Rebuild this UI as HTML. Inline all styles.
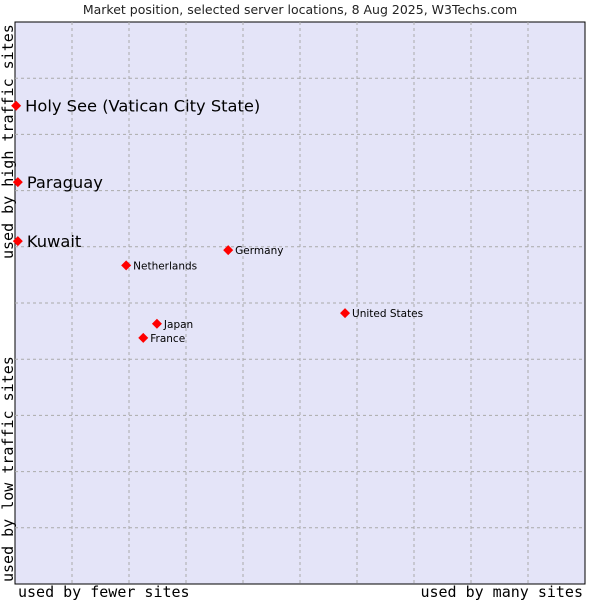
<!DOCTYPE html>
<html><head><meta charset="utf-8"><style>
body{margin:0;background:#fff;width:600px;height:600px;overflow:hidden}
svg{font-family:"DejaVu Sans","Liberation Sans",sans-serif}
.mono{font-family:"DejaVu Sans Mono","Liberation Mono",monospace}
</style></head><body>
<svg id="chart" width="600" height="600">
<text x="300" y="14" text-anchor="middle" font-size="12.5" fill="#222">Market position, selected server locations, 8 Aug 2025, W3Techs.com</text>
<rect x="15" y="22" width="570" height="562" fill="#e4e4f8" stroke="#000" stroke-width="1"/>
<g id="grid"></g>
<g id="marks"></g>
<text class="mono" x="18" y="597" font-size="15" fill="#000">used by fewer sites</text>
<text class="mono" x="583" y="597" font-size="15" fill="#000" text-anchor="end">used by many sites</text>
<text class="mono" transform="translate(13,259) rotate(-90)" font-size="15" fill="#000">used by high traffic sites</text>
<text class="mono" transform="translate(13,582) rotate(-90)" font-size="15" fill="#000">used by low traffic sites</text>
</svg>
<script>
const names=["Holy See (Vatican City State)","Paraguay","Kuwait","Netherlands","Germany","United States","Japan","France"];
const xVals=[0.2,0.5,0.5,19.5,37.4,57.9,24.9,22.5];
const yVals=[85.1,71.5,61,56.7,59.4,48.2,46.3,43.8];
const bigLabel=[true,true,true,false,false,false,false,false];
const L=15,T=22,W=570,H=562;
const sx=v=>L+v/100*W, sy=v=>T+H-v/100*H;
const ns="http://www.w3.org/2000/svg";
const g=document.getElementById('grid');
for(let i=1;i<10;i++){
 const a=document.createElementNS(ns,'line');
 
 
 a.setAttribute('x1',sx(i*10));a.setAttribute('x2',sx(i*10));a.setAttribute('y1',T);a.setAttribute('y2',T+H);
 a.setAttribute('stroke','#aaa');a.setAttribute('stroke-dasharray','3,3');g.appendChild(a);
 const b=document.createElementNS(ns,'line');
 
 
 b.setAttribute('y1',sy(i*10));b.setAttribute('y2',sy(i*10));b.setAttribute('x1',L);b.setAttribute('x2',L+W);
 b.setAttribute('stroke','#aaa');b.setAttribute('stroke-dasharray','3,3');g.appendChild(b);
}
const m=document.getElementById('marks');
names.forEach((n,i)=>{
 const x=sx(xVals[i]),y=sy(yVals[i]);
 const p=document.createElementNS(ns,'path');
 
 
 p.setAttribute('d',`M${x-5},${y}L${x},${y-5}L${x+5},${y}L${x},${y+5}Z`);
 p.setAttribute('fill','#f00');m.appendChild(p);
 const t=document.createElementNS(ns,'text');
 
 
 t.setAttribute('x',x+(bigLabel[i]?9:7));t.setAttribute('y',y+(bigLabel[i]?6:4));
 t.setAttribute('font-size',bigLabel[i]?'16.3':'10.5');t.setAttribute('fill','#000');
 t.textContent=n;m.appendChild(t);
});
</script>
</body></html>
